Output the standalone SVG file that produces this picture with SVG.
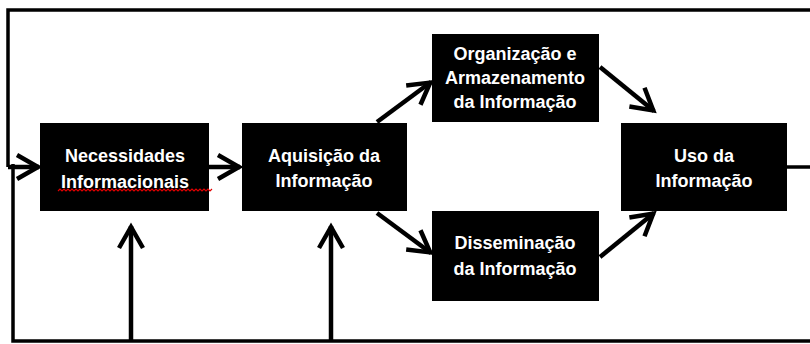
<svg xmlns="http://www.w3.org/2000/svg" width="810" height="344" viewBox="0 0 810 344">
<defs>
<style>
.box{fill:#000}
.t{font-family:"Liberation Sans",Arial,sans-serif;font-weight:bold;font-size:18px;fill:#fff;text-anchor:middle}
.c{fill:none;stroke:#000;stroke-width:4.5}
.f{fill:none;stroke:#000;stroke-width:3.5}
.sq{fill:none;stroke:#e00000;stroke-width:1.2}
</style>
<marker id="ah" markerUnits="userSpaceOnUse" markerWidth="40" markerHeight="40" viewBox="-30 -20 40 40" refX="0" refY="0" orient="auto">
<path d="M -22 -12 L -1 0 L -22 12" fill="none" stroke="#000" stroke-width="4.5"/>
</marker>
</defs>
<rect width="810" height="344" fill="#fff"/>
<g id="connectors">
<path class="f" d="M 812 10 H 8 V 167"/>
<path class="c" d="M 8 167 H 39" marker-end="url(#ah)"/>
<path class="f" d="M 787 167 H 812"/>
<path class="f" d="M 13 164 V 341 H 812"/>
<path class="c" d="M 131 340 V 226" marker-end="url(#ah)"/>
<path class="c" d="M 331 340 V 226" marker-end="url(#ah)"/>
<path class="c" d="M 209 167 H 240" marker-end="url(#ah)"/>
<path class="c" d="M 377 122 L 431 82" marker-end="url(#ah)"/>
<path class="c" d="M 377 213 L 431 253" marker-end="url(#ah)"/>
<path class="c" d="M 600 67 L 654 111" marker-end="url(#ah)"/>
<path class="c" d="M 600 257 L 654 213" marker-end="url(#ah)"/>
</g>
<g id="necessidades">
<rect class="box" x="40" y="123" width="169" height="88"/>
<text class="t" x="125" y="162">Necessidades</text>
<text class="t" x="125" y="188">Informacionais</text>
<path class="sq" d="M 58 191 l 2 -2 l 2 2 l 2 -2 l 2 2 l 2 -2 l 2 2 l 2 -2 l 2 2 l 2 -2 l 2 2 l 2 -2 l 2 2 l 2 -2 l 2 2 l 2 -2 l 2 2 l 2 -2 l 2 2 l 2 -2 l 2 2 l 2 -2 l 2 2 l 2 -2 l 2 2 l 2 -2 l 2 2 l 2 -2 l 2 2 l 2 -2 l 2 2 l 2 -2 l 2 2 l 2 -2 l 2 2 l 2 -2 l 2 2 l 2 -2 l 2 2 l 2 -2 l 2 2 l 2 -2 l 2 2 l 2 -2 l 2 2 l 2 -2 l 2 2 l 2 -2 l 2 2 l 2 -2 l 2 2 l 2 -2 l 2 2 l 2 -2 l 2 2 l 2 -2 l 2 2 l 2 -2 l 2 2 l 2 -2 l 2 2 l 2 -2 l 2 2 l 2 -2 l 2 2 l 2 -2 l 2 2 l 2 -2 l 2 2 l 2 -2 l 2 2 l 2 -2 l 2 2 l 2 -2 l 2 2 l 2 -2 l 2 2 l 2 -2"/>
</g>
<g id="aquisicao">
<rect class="box" x="242" y="123" width="165" height="88"/>
<text class="t" x="324" y="162">Aquisição da</text>
<text class="t" x="324" y="187">Informação</text>
</g>
<g id="organizacao">
<rect class="box" x="432" y="34" width="167" height="88"/>
<text class="t" x="515" y="60">Organização e</text>
<text class="t" x="515" y="84">Armazenamento</text>
<text class="t" x="515" y="108">da Informação</text>
</g>
<g id="disseminacao">
<rect class="box" x="432" y="211" width="167" height="90"/>
<text class="t" x="515" y="249">Disseminação</text>
<text class="t" x="515" y="275">da Informação</text>
</g>
<g id="uso">
<rect class="box" x="621" y="123" width="166" height="88"/>
<text class="t" x="704" y="162">Uso da</text>
<text class="t" x="704" y="187">Informação</text>
</g>
</svg>
